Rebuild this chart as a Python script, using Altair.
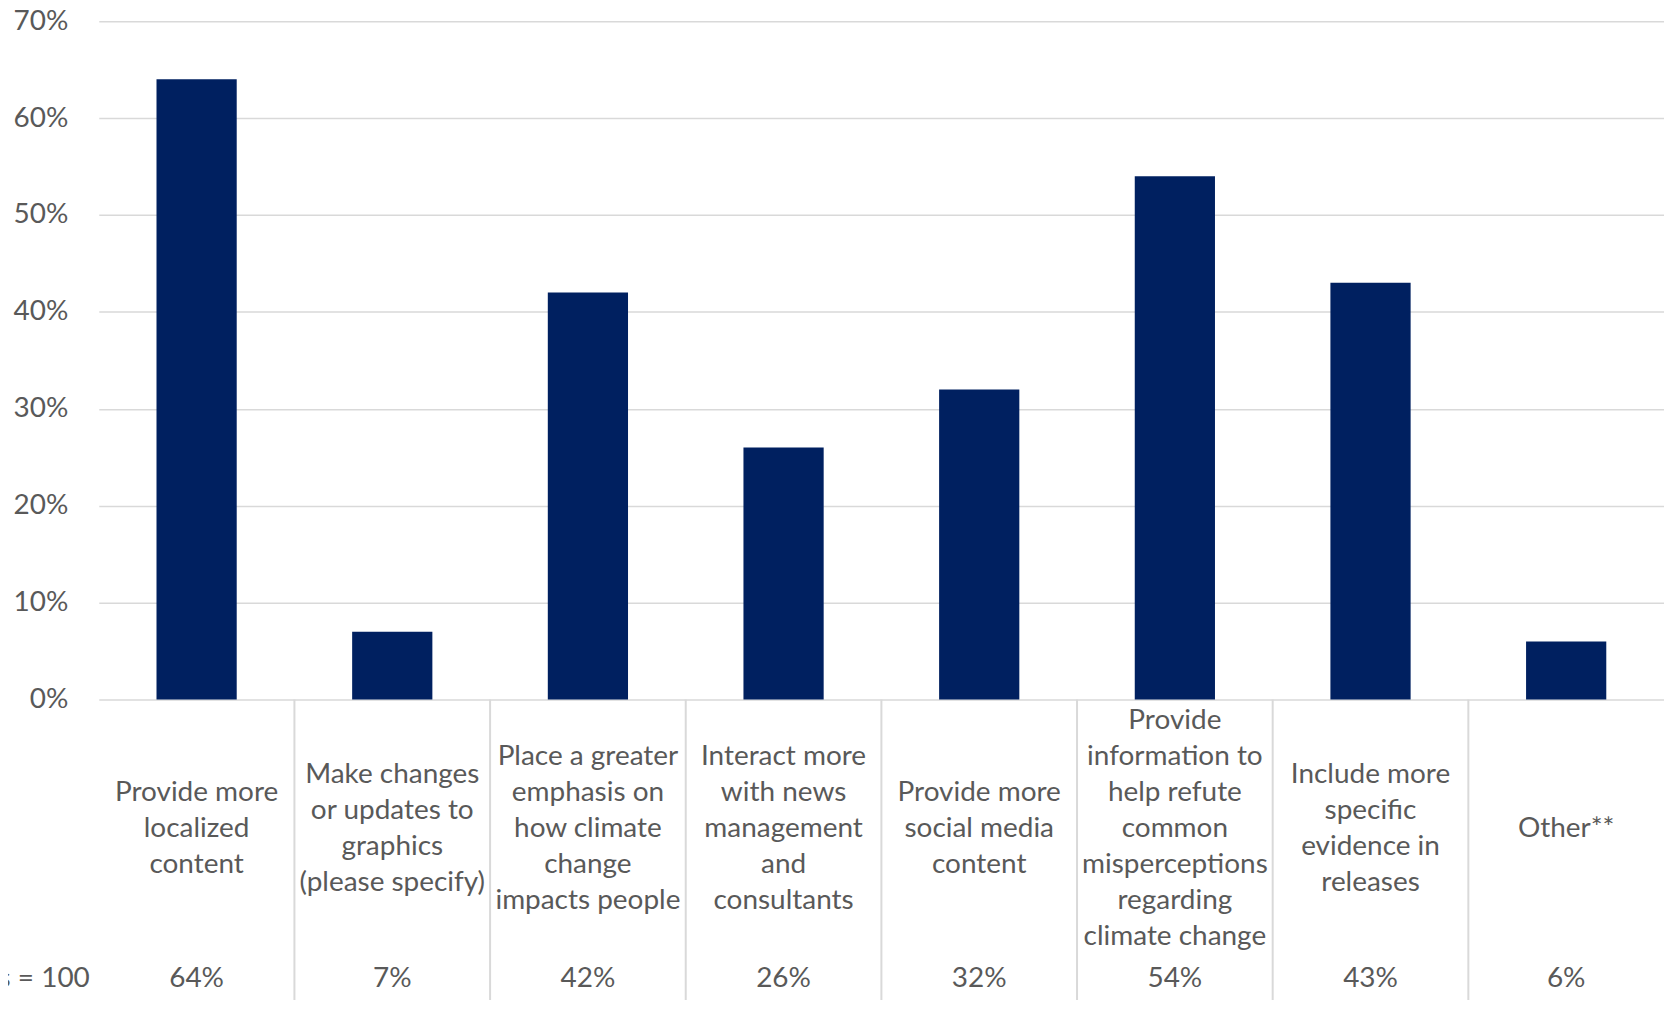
import altair as alt
import pandas as pd

categories = [
    "Provide more localized content",
    "Make changes or updates to graphics (please specify)",
    "Place a greater emphasis on how climate change impacts people",
    "Interact more with news management and consultants",
    "Provide more social media content",
    "Provide information to help refute common misperceptions regarding climate change",
    "Include more specific evidence in releases",
    "Other**",
]
label_lines = [
    ["Provide more", "localized", "content"],
    ["Make changes", "or updates to", "graphics", "(please specify)"],
    ["Place a greater", "emphasis on", "how climate", "change", "impacts people"],
    ["Interact more", "with news", "management", "and", "consultants"],
    ["Provide more", "social media", "content"],
    ["Provide", "information to", "help refute", "common", "misperceptions", "regarding", "climate change"],
    ["Include more", "specific", "evidence in", "releases"],
    ["Other**"],
]
values = [0.64, 0.07, 0.42, 0.26, 0.32, 0.54, 0.43, 0.06]
series_name = "Number of responses = 100"

W = 1569
H = 680
N = len(categories)
PAD_INNER = 0.59
step = W / N
LINE_H = 36
LABEL_CENTER = 810
NUM_Y = 960

df = pd.DataFrame({
    "cat": categories,
    "value": values,
    "lines": label_lines,
    "nlines": [len(l) for l in label_lines],
    "idx": list(range(N)),
})

FONT = "Lato"
GRAY = "#595959"
GRID = "#d9d9d9"

xscale = alt.Scale(domain=categories, paddingInner=PAD_INNER, paddingOuter=PAD_INNER / 2)
xenc = alt.X("cat:N", scale=xscale, axis=None, sort=categories)

bars = alt.Chart(df).mark_bar(color="#002060").encode(
    x=xenc,
    y=alt.Y(
        "value:Q",
        scale=alt.Scale(domain=[0, 0.7]),
        axis=alt.Axis(
            values=[0, 0.1, 0.2, 0.3, 0.4, 0.5, 0.6, 0.7],
            format=".0%",
            grid=True,
            gridColor=GRID,
            gridWidth=1.5,
            domain=False,
            ticks=False,
            labelFont=FONT,
            labelFontSize=28,
            labelColor=GRAY,
            labelPadding=31,
            title=None,
        ),
    ),
)

base = alt.Chart(df)

cat_labels = base.transform_calculate(
    ypix=f"{LABEL_CENTER} - (datum.nlines - 1) * {LINE_H / 2}"
).mark_text(
    font=FONT, fontSize=28, color=GRAY, lineHeight=LINE_H, baseline="middle", align="center"
).encode(x=xenc, y=alt.Y("ypix:Q", scale=None), text="lines")

num_labels = base.mark_text(
    font=FONT, fontSize=28, color=GRAY, baseline="middle", align="center"
).encode(x=xenc, y=alt.value(NUM_Y), text=alt.Text("value:Q", format=".0%"))

seps = base.transform_filter("datum.idx > 0").mark_rule(
    color=GRID, strokeWidth=2, xOffset=-step * PAD_INNER / 2
).encode(x=alt.X("cat:N", scale=xscale, axis=None, sort=categories, bandPosition=0),
         y=alt.value(H), y2=alt.value(H + 303))

series_label = alt.Chart(pd.DataFrame({"t": [series_name]})).mark_text(
    font=FONT, fontSize=28, color=GRAY, baseline="middle", align="right"
).encode(x=alt.value(-9), y=alt.value(NUM_Y), text="t:N")

chart = alt.layer(bars, seps, cat_labels, num_labels, series_label).properties(
    width=W,
    height=H,
    autosize=alt.AutoSizeParams(type="none"),
    padding={"left": 91, "top": 12, "right": 0, "bottom": 300},
).configure_view(stroke=None)

chart.save("out.html", embed_options={"renderer": "svg", "actions": False})
